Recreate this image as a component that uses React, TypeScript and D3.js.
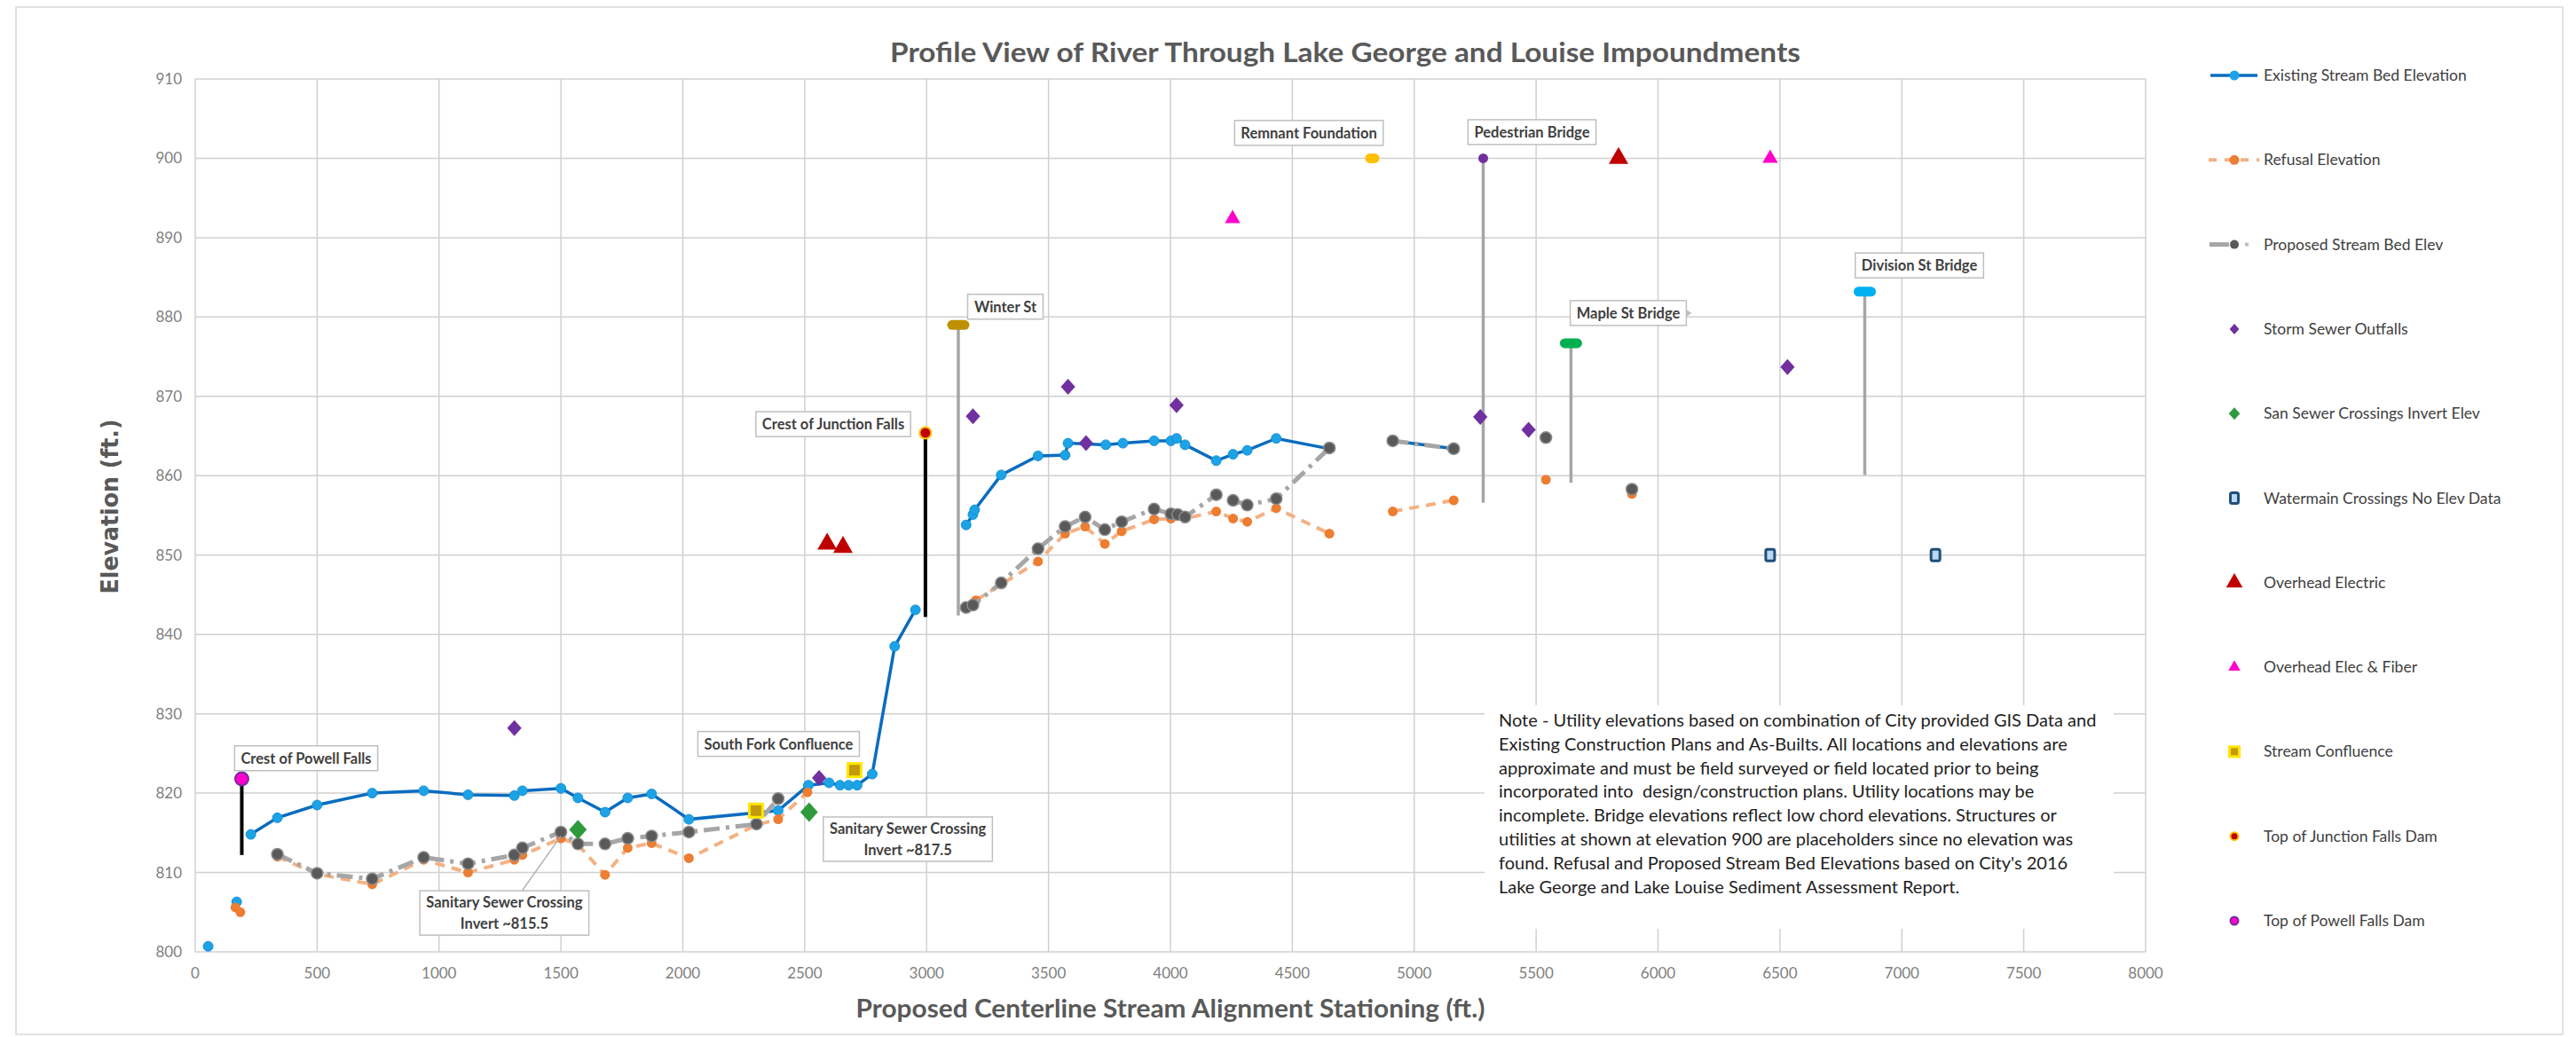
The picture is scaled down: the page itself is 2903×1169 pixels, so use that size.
import React, { useEffect, useRef } from 'react';
import * as d3 from 'd3';

// stream profile series (null = break in the line)
const existingStation = [53, null, 170, null, 228, 337, 500, 726, 937, 1119, 1309, 1342, 1500, 1570, 1681, 1774, 1872, 2025, 2391, 2515, 2600, 2645, 2680, 2715, 2777, 2869, 2954, null, 3162, 3190, 3197, 3306, 3457, 3568, 3580, 3735, 3805, 3933, 4002, 4025, 4060, 4188, 4257, 4315, 4434, 4652, null, 4912, 5162];
const existingElev = [800.7, null, 806.3, null, 814.8, 816.9, 818.5, 820.0, 820.3, 819.8, 819.7, 820.3, 820.6, 819.4, 817.6, 819.4, 819.9, 816.7, 817.8, 821.0, 821.3, 821.0, 821.0, 821.0, 822.4, 838.5, 843.1, null, 853.8, 855.1, 855.7, 860.1, 862.5, 862.6, 864.1, 863.9, 864.1, 864.4, 864.4, 864.7, 863.9, 861.9, 862.7, 863.2, 864.7, 863.4, null, 864.4, 863.4];

const refusalStation = [165, 185, null, 337, 500, 726, 937, 1119, 1309, 1342, 1500, 1570, 1681, 1774, 1872, 2025, 2302, 2391, 2511, null, 3202, 3306, 3457, 3568, 3650, 3731, 3800, 3933, 4002, 4060, 4188, 4257, 4315, 4434, 4652, null, 4912, 5162, null, 5540, null, 5893];
const refusalElev = [805.6, 805.0, null, 812.0, 809.8, 808.5, 811.6, 810.0, 811.6, 812.2, 814.3, 813.5, 809.7, 813.1, 813.7, 811.8, 816.0, 816.7, 820.1, null, 844.3, 846.3, 849.2, 852.7, 853.6, 851.4, 853.0, 854.5, 854.6, 854.6, 855.5, 854.6, 854.2, 855.9, 852.7, null, 855.5, 856.9, null, 859.5, null, 857.7];

const proposedStation = [337, 500, 726, 937, 1119, 1309, 1342, 1500, 1570, 1681, 1774, 1872, 2025, 2302, 2391, null, 3162, 3190, 3306, 3457, 3568, 3650, 3731, 3800, 3933, 4002, 4030, 4060, 4188, 4257, 4315, 4434, 4652, null, 4912, 5162, null, 5540, null, 5893];
const proposedElev = [812.3, 809.9, 809.2, 811.9, 811.1, 812.2, 813.1, 815.1, 813.6, 813.6, 814.3, 814.6, 815.1, 816.1, 819.3, null, 843.4, 843.7, 846.5, 850.8, 853.6, 854.8, 853.2, 854.2, 855.8, 855.2, 855.1, 854.8, 857.6, 856.9, 856.3, 857.1, 863.5, null, 864.4, 863.4, null, 864.8, null, 858.3];

// point features
const stormStation = [1309, 2559, 3190, 3580, 3654, 4025, 5271, 5469, 6531];
const stormElev = [828.2, 821.9, 867.5, 871.2, 864.1, 868.9, 867.4, 865.8, 873.7];
const sanSewerStation = [1570, 2518];
const sanSewerElev = [815.4, 817.6];
const watermainStation = [6460, 7138];
const watermainElev = [850, 850];
const electricStation = [2592, 2657, 5838];
const electricElev = [851.4, 851.0, 900];
const fiberStation = [4255, 6460];
const fiberElev = [892.4, 900];
const confluenceStation = [2300, 2704];
const confluenceElev = [817.8, 822.9];
const junctionDam = { station: 2995, top: 865.4, bottom: 842.2 };
const powellDam = { station: 191, top: 821.8, bottom: 812.2 };

// bridges / structures: deck (low chord) elevation and bottom of the drop line
const bridgeNames = ['Winter St', 'Remnant Foundation', 'Pedestrian Bridge', 'Maple St Bridge', 'Division St Bridge'];
const bridgeStation = [3130, 4828, 5283, 5643, 6848];
const bridgeElev = [879.0, 900, 900, 876.7, 883.2];
const bridgeBottom = [842.4, null, 856.6, 859.1, 860.1];
const bridgeColors = ['#bf9000', '#ffc000', '#7030a0', '#00b050', '#00b0f0'];

// callouts: text lines and box centre in chart units
const calloutText = [
  ['Crest of Powell Falls'],
  ['South Fork Confluence'],
  ['Sanitary Sewer Crossing', 'Invert ~815.5'],
  ['Sanitary Sewer Crossing', 'Invert ~817.5'],
  ['Crest of Junction Falls'],
  ['Winter St'],
  ['Remnant Foundation'],
  ['Pedestrian Bridge'],
  ['Maple St Bridge'],
  ['Division St Bridge'],
];
const calloutStation = [455, 2393, 1268, 2923, 2617, 3323, 4568, 5483, 5878, 7072];
const calloutElev = [824.4, 826.2, 804.9, 814.2, 866.5, 881.3, 903.2, 903.3, 880.5, 886.5];

const legendNames = ['Existing Stream Bed Elevation', 'Refusal Elevation', 'Proposed Stream Bed Elev', 'Storm Sewer Outfalls', 'San Sewer Crossings Invert Elev', 'Watermain Crossings No Elev Data', 'Overhead Electric', 'Overhead Elec & Fiber', 'Stream Confluence', 'Top of Junction Falls Dam', 'Top of Powell Falls Dam'];

const noteLines = [
  'Note - Utility elevations based on combination of City provided GIS Data and',
  'Existing Construction Plans and As-Builts. All locations and elevations are',
  'approximate and must be field surveyed or field located prior to being',
  'incorporated into  design/construction plans. Utility locations may be',
  'incomplete. Bridge elevations reflect low chord elevations. Structures or',
  'utilities at shown at elevation 900 are placeholders since no elevation was',
  "found. Refusal and Proposed Stream Bed Elevations based on City's 2016",
  'Lake George and Lake Louise Sediment Assessment Report.',
];

const xTicks = d3.range(0, 8001, 500);
const yTicks = d3.range(800, 911, 10);

const W = 2903, H = 1169;
const FONT = 'Lato, "Open Sans", sans-serif';

function App() {
  const svgRef = useRef(null);

  useEffect(() => {
    const svg = d3.select(svgRef.current);
    svg.selectAll('*').remove();

    const x = d3.scaleLinear().domain([0, 8000]).range([220, 2418]);
    const y = d3.scaleLinear().domain([800, 910]).range([1073, 89]);

    svg.append('rect').attr('width', W).attr('height', H).attr('fill', '#fff');
    svg.append('rect').attr('x', 18).attr('y', 8).attr('width', 2870).attr('height', 1158)
      .attr('fill', 'none').attr('stroke', '#d9d9d9').attr('stroke-width', 1.5);

    // grid
    const grid = svg.append('g').attr('stroke', '#d0d0d0').attr('stroke-width', 1.5);
    grid.selectAll('.gx').data(xTicks).join('line')
      .attr('x1', d => x(d)).attr('x2', d => x(d)).attr('y1', y(910)).attr('y2', y(800));
    grid.selectAll('.gy').data(yTicks).join('line')
      .attr('x1', x(0)).attr('x2', x(8000)).attr('y1', d => y(d)).attr('y2', d => y(d));

    // tick labels
    svg.append('g').selectAll('text').data(yTicks).join('text')
      .attr('x', 205).attr('y', d => y(d) + 6).attr('text-anchor', 'end')
      .attr('font-family', FONT).attr('font-size', 17).attr('fill', '#7f7f7f').text(d => d);
    svg.append('g').selectAll('text').data(xTicks).join('text')
      .attr('x', d => x(d)).attr('y', 1103).attr('text-anchor', 'middle')
      .attr('font-family', FONT).attr('font-size', 17).attr('fill', '#7f7f7f').text(d => d);

    // titles
    svg.append('text').attr('x', 1516).attr('y', 70).attr('text-anchor', 'middle')
      .attr('font-family', FONT).attr('font-weight', 'bold').attr('font-size', 31).attr('fill', '#595959')
      .attr('textLength', 1026).attr('lengthAdjust', 'spacingAndGlyphs')
      .text('Profile View of River Through Lake George and Louise Impoundments');
    svg.append('text').attr('x', 1319).attr('y', 1147).attr('text-anchor', 'middle')
      .attr('font-family', FONT).attr('font-weight', 'bold').attr('font-size', 28).attr('fill', '#595959')
      .attr('textLength', 709).attr('lengthAdjust', 'spacingAndGlyphs')
      .text('Proposed Centerline Stream Alignment Stationing (ft.)');
    svg.append('text').attr('transform', 'translate(133,571) rotate(-90)').attr('text-anchor', 'middle')
      .attr('font-family', '"DejaVu Sans", sans-serif').attr('font-weight', 'bold').attr('font-size', 26)
      .attr('fill', '#595959').attr('textLength', 197).attr('lengthAdjust', 'spacingAndGlyphs')
      .text('Elevation (ft.)');

    // note box
    svg.append('rect').attr('x', 1673).attr('y', 795).attr('width', 709).attr('height', 252).attr('fill', '#fff');
    svg.append('g').selectAll('text').data(noteLines).join('text')
      .attr('x', 1689).attr('y', (d, i) => 819 + i * 26.8)
      .attr('font-family', FONT).attr('font-size', 20).attr('fill', '#1e1e1e')
      .attr('xml:space', 'preserve').style('white-space', 'pre').text(d => d);

    const pts = (st, el) => st.map((s, i) => ({ s, e: el[i] }));
    const line = d3.line().defined(d => d.e != null && d.s != null).x(d => x(d.s)).y(d => y(d.e));

    // vertical drop lines
    svg.append('g').selectAll('line').data(bridgeStation.map((s, i) => ({ s, top: bridgeElev[i], bot: bridgeBottom[i] })).filter(d => d.bot != null))
      .join('line').attr('x1', d => x(d.s)).attr('x2', d => x(d.s)).attr('y1', d => y(d.top)).attr('y2', d => y(d.bot))
      .attr('stroke', '#a6a6a6').attr('stroke-width', 3.5);
    [junctionDam, powellDam].forEach(d => {
      svg.append('line').attr('x1', x(d.station)).attr('x2', x(d.station)).attr('y1', y(d.top)).attr('y2', y(d.bottom))
        .attr('stroke', '#000').attr('stroke-width', 4);
    });

    // existing stream bed
    const existing = pts(existingStation, existingElev);
    svg.append('path').attr('d', line(existing)).attr('fill', 'none').attr('stroke', '#0a6cbf').attr('stroke-width', 3.5);
    svg.append('g').selectAll('circle').data(existing.filter(d => d.e != null)).join('circle')
      .attr('cx', d => x(d.s)).attr('cy', d => y(d.e)).attr('r', 5.5)
      .attr('fill', '#1ba3e6').attr('stroke', '#1a8fd6').attr('stroke-width', 1);

    // refusal
    const refusal = pts(refusalStation, refusalElev);
    svg.append('path').attr('d', line(refusal)).attr('fill', 'none').attr('stroke', '#f4b183')
      .attr('stroke-width', 4).attr('stroke-dasharray', '11 8');
    svg.append('g').selectAll('circle').data(refusal.filter(d => d.e != null)).join('circle')
      .attr('cx', d => x(d.s)).attr('cy', d => y(d.e)).attr('r', 5.5).attr('fill', '#ed7d31');

    // proposed
    const proposed = pts(proposedStation, proposedElev);
    svg.append('path').attr('d', line(proposed)).attr('fill', 'none').attr('stroke', '#a6a6a6')
      .attr('stroke-width', 5).attr('stroke-dasharray', '18 7 4 7');
    svg.append('g').selectAll('circle').data(proposed.filter(d => d.e != null)).join('circle')
      .attr('cx', d => x(d.s)).attr('cy', d => y(d.e)).attr('r', 6.5)
      .attr('fill', '#595959').attr('stroke', '#8c8c8c').attr('stroke-width', 1.5);

    // marker helpers
    const diamond = (g, cx, cy, half, fill) => g.append('path')
      .attr('d', `M${cx},${cy - half}L${cx + half * 0.9},${cy}L${cx},${cy + half}L${cx - half * 0.9},${cy}Z`).attr('fill', fill);
    const tri = (g, cx, cy, size, fill) => g.append('path')
      .attr('d', d3.symbol().type(d3.symbolTriangle).size(size)()).attr('transform', `translate(${cx},${cy})`).attr('fill', fill);
    const confl = (g, cx, cy, s) => g.append('rect').attr('x', cx - s / 2).attr('y', cy - s / 2).attr('width', s).attr('height', s)
      .attr('fill', '#c29a0c').attr('stroke', '#ffe600').attr('stroke-width', 3);
    const water = (g, cx, cy, w, h) => g.append('rect').attr('x', cx - w / 2).attr('y', cy - h / 2).attr('width', w).attr('height', h)
      .attr('rx', 2).attr('fill', '#bdd7ee').attr('stroke', '#1f4e79').attr('stroke-width', 3);
    const junction = (g, cx, cy, r) => g.append('circle').attr('cx', cx).attr('cy', cy).attr('r', r)
      .attr('fill', '#c00000').attr('stroke', '#ffc000').attr('stroke-width', 2);
    const powell = (g, cx, cy, r) => g.append('circle').attr('cx', cx).attr('cy', cy).attr('r', r)
      .attr('fill', '#ff00cc').attr('stroke', '#7030a0').attr('stroke-width', 2);

    const pg = svg.append('g');
    stormStation.forEach((s, i) => diamond(pg, x(s), y(stormElev[i]), 9, '#7030a0'));
    sanSewerStation.forEach((s, i) => diamond(pg, x(s), y(sanSewerElev[i]), 11, '#2e9a3c'));
    watermainStation.forEach((s, i) => water(pg, x(s), y(watermainElev[i]), 10, 13));
    electricStation.forEach((s, i) => tri(pg, x(s), y(electricElev[i]), 210, '#c00000'));
    fiberStation.forEach((s, i) => tri(pg, x(s), y(fiberElev[i]), 130, '#ff00cc'));
    confluenceStation.forEach((s, i) => confl(pg, x(s), y(confluenceElev[i]), 15));
    junction(pg, x(junctionDam.station), y(junctionDam.top), 6.5);
    powell(pg, x(powellDam.station), y(powellDam.top), 7.5);

    // bridge deck markers
    bridgeStation.forEach((s, i) => {
      const w = bridgeNames[i] === 'Pedestrian Bridge' ? 11 : bridgeNames[i] === 'Remnant Foundation' ? 16 : 25;
      pg.append('rect').attr('x', x(s) - w / 2).attr('y', y(bridgeElev[i]) - 5.5).attr('width', w).attr('height', 11)
        .attr('rx', 5.5).attr('fill', bridgeColors[i]);
    });

    // callouts
    const cg = svg.append('g');
    // leader for first sanitary crossing
    cg.append('line').attr('x1', x(calloutStation[2]) + 20).attr('y1', y(calloutElev[2]) - 25)
      .attr('x2', x(1500)).attr('y2', y(814.6)).attr('stroke', '#a6a6a6').attr('stroke-width', 1.2);
    calloutText.forEach((lines, i) => {
      const cx = x(calloutStation[i]), cy = y(calloutElev[i]);
      const g = cg.append('g');
      const rect = g.append('rect');
      const lh = 24;
      const t = g.append('text').attr('font-family', FONT).attr('font-weight', 'bold').attr('font-size', 16.5)
        .attr('fill', '#404040').attr('text-anchor', 'middle');
      lines.forEach((l, j) => t.append('tspan').attr('x', cx)
        .attr('y', cy + 6 + (j - (lines.length - 1) / 2) * lh).text(l));
      const bw = t.node().getBBox().width + 14;
      const bh = lines.length === 1 ? 28 : 50;
      rect.attr('x', cx - bw / 2).attr('y', cy - bh / 2).attr('width', bw).attr('height', bh)
        .attr('fill', '#fff').attr('stroke', '#bfbfbf').attr('stroke-width', 1.5);
      if (calloutText[i][0] === 'Maple St Bridge') {
        g.append('path').attr('d', `M${cx + bw / 2},${cy - 4}L${cx + bw / 2 + 6},${cy}L${cx + bw / 2},${cy + 4}Z`)
          .attr('fill', '#bfbfbf');
      }
    });

    // legend
    const lg = svg.append('g');
    legendNames.forEach((name, i) => {
      const cy = 85 + i * 95.3, cx = 2518;
      if (i === 0) {
        lg.append('line').attr('x1', 2491).attr('x2', 2544).attr('y1', cy).attr('y2', cy).attr('stroke', '#0a6cbf').attr('stroke-width', 3.5);
        lg.append('circle').attr('cx', cx).attr('cy', cy).attr('r', 5.5).attr('fill', '#1ba3e6');
      } else if (i === 1) {
        lg.append('line').attr('x1', 2489).attr('x2', 2546).attr('y1', cy).attr('y2', cy).attr('stroke', '#f4b183')
          .attr('stroke-width', 4).attr('stroke-dasharray', '9 9');
        lg.append('circle').attr('cx', cx).attr('cy', cy).attr('r', 5.5).attr('fill', '#ed7d31');
      } else if (i === 2) {
        lg.append('line').attr('x1', 2490).attr('x2', 2512).attr('y1', cy).attr('y2', cy).attr('stroke', '#a6a6a6').attr('stroke-width', 5);
        lg.append('rect').attr('x', 2530).attr('y', cy - 2).attr('width', 4).attr('height', 4).attr('fill', '#bfbfbf');
        lg.append('circle').attr('cx', cx).attr('cy', cy).attr('r', 5).attr('fill', '#595959');
      } else if (i === 3) diamond(lg, cx, cy, 6, '#7030a0');
      else if (i === 4) diamond(lg, cx, cy, 7, '#2e9a3c');
      else if (i === 5) water(lg, cx, cy, 9, 12);
      else if (i === 6) tri(lg, cx, cy, 150, '#c00000');
      else if (i === 7) tri(lg, cx, cy, 80, '#ff00cc');
      else if (i === 8) confl(lg, cx, cy, 11);
      else if (i === 9) junction(lg, cx, cy, 4.5);
      else powell(lg, cx, cy, 4.5);
      lg.append('text').attr('x', 2551).attr('y', cy + 6).attr('font-family', FONT).attr('font-size', 17.5)
        .attr('fill', '#404040').text(name);
    });
  }, []);

  return (
    <svg ref={svgRef} width={W} height={H}
      style={{ position: 'absolute', left: 0, top: 0, display: 'block' }} />
  );
}

export default App;
